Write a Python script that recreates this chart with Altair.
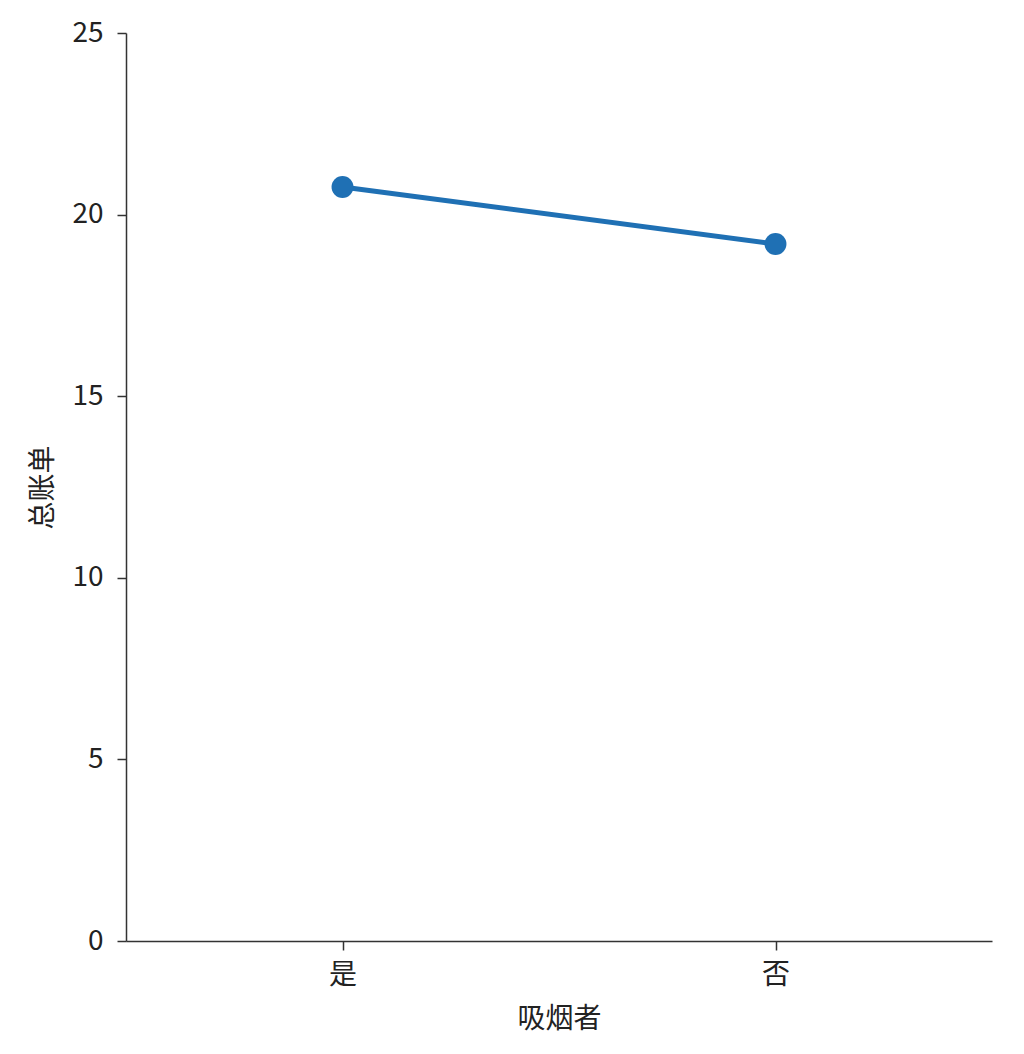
import altair as alt
import pandas as pd

categories = ["是", "否"]
values = [20.76, 19.19]

df = pd.DataFrame({"吸烟者": categories, "总账单": values})

FONT = "Noto Sans CJK SC"
COLOR = "#1f70b4"

x = alt.X("吸烟者:N", sort=categories,
          scale=alt.Scale(type="point", padding=0.5),
          axis=alt.Axis(labelAngle=0, labelFontSize=28, titleFontSize=28,
                        labelPadding=11, titlePadding=16, tickSize=9))
y = alt.Y("总账单:Q", scale=alt.Scale(domain=[0, 25], nice=False, zero=True),
          axis=alt.Axis(values=[0, 5, 10, 15, 20, 25], grid=False,
                        labelFontSize=28, titleFontSize=28,
                        labelPadding=14, titlePadding=14, tickSize=9))

base = alt.Chart(df).encode(x=x, y=y)
line = base.mark_line(color=COLOR, strokeWidth=5)
pts = base.mark_circle(color=COLOR, size=480, opacity=1)

chart = (line + pts).properties(
    width=866, height=908,
    autosize=alt.AutoSizeParams(type="none"),
    padding={"left": 118, "top": 25, "right": 24, "bottom": 100},
).configure_view(stroke=None).configure_axis(
    labelFont=FONT, titleFont=FONT, labelColor="#222", titleColor="#222",
    domainColor="#333", tickColor="#333", domainWidth=1.5, tickWidth=1.5,
    titleFontWeight="normal",
)

chart.save("out.html", embed_options={"renderer": "svg", "actions": False})
